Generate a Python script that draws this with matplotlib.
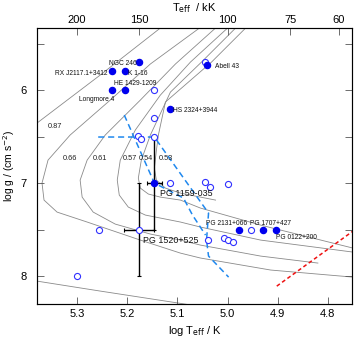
import matplotlib
matplotlib.use('Agg')
import matplotlib.pyplot as plt
import numpy as np

plt.rcParams['font.family'] = ['Liberation Sans', 'DejaVu Sans']

# evolutionary tracks (log Teff, log g)
trk_087_t = [5.134, 5.254, 5.380, 5.460, 5.380, 5.254, 5.098, 5.050]
trk_087_g = [5.333, 5.839, 6.355, 7.200, 8.054, 8.161, 8.290, 8.330]
trk_066_t = [5.056, 5.154, 5.234, 5.314, 5.358, 5.370, 5.366, 5.340, 5.280, 5.174, 5.094, 5.054, 4.914, 4.750]
trk_066_g = [5.333, 5.720, 6.108, 6.484, 6.753, 7.000, 7.183, 7.312, 7.419, 7.613, 7.753, 7.806, 7.935, 8.011]
trk_061_t = [5.024, 5.104, 5.174, 5.244, 5.280, 5.294, 5.290, 5.268, 5.224, 5.154, 5.094, 5.054, 4.934, 4.820]
trk_061_g = [5.333, 5.720, 6.108, 6.484, 6.753, 6.968, 7.151, 7.312, 7.441, 7.548, 7.613, 7.667, 7.785, 7.860]
trk_057_t = [5.000, 5.074, 5.134, 5.184, 5.214, 5.220, 5.216, 5.198, 5.164, 5.094, 5.054, 4.934, 4.750]
trk_057_g = [5.333, 5.699, 6.054, 6.430, 6.753, 6.968, 7.129, 7.258, 7.344, 7.419, 7.473, 7.613, 7.742]
trk_054_t = [4.984, 5.052, 5.114, 5.154, 5.172, 5.178, 5.174, 5.158, 5.134, 5.094, 5.054, 4.934, 4.750]
trk_054_g = [5.333, 5.699, 6.022, 6.484, 6.753, 6.946, 7.054, 7.118, 7.151, 7.183, 7.269, 7.452, 7.699]
trk_053_t = [4.964, 5.032, 5.124, 5.138, 5.142, 5.146, 5.142, 5.124, 5.094, 5.054, 5.024]
trk_053_g = [5.333, 5.699, 6.129, 6.484, 6.650, 6.840, 6.968, 7.054, 7.108, 7.151, 7.183]
track_labels = ['0.87', '0.66', '0.61', '0.57', '0.54', '0.53']
label_t = [5.345, 5.315, 5.255, 5.195, 5.162, 5.123]
label_g = [6.387, 6.731, 6.731, 6.731, 6.731, 6.731]

# instability strip boundaries
blue1_t = [5.258, 5.146, 5.038, 5.042, 5.038, 4.998]
blue1_g = [6.505, 6.505, 7.323, 7.613, 7.785, 8.011]
blue2_t = [5.206, 5.146, 5.088, 5.070, 5.044]
blue2_g = [6.269, 7.000, 7.161, 7.344, 7.559]
red_t = [4.902, 4.750]
red_g = [8.108, 7.516]

# stars with spectroscopic analyses (filled)
filled_name = ['NGC 246', 'RX J2117.1+3412', 'K 1-16', 'HE 1429-1209', 'Longmore 4',
               'HS 2324+3944', 'Abell 43', 'PG 1159-035', 'PG 2131+066', 'PG 1707+427',
               'PG 0122+200']
filled_t = [5.176, 5.230, 5.204, 5.204, 5.230, 5.114, 5.041, 5.146, 4.978, 4.929, 4.903]
filled_g = [5.70, 5.80, 5.80, 6.00, 6.00, 6.20, 5.73, 7.00, 7.50, 7.50, 7.50]
# other objects (open)
open_t = [5.146, 5.146, 5.178, 5.172, 5.146, 5.114, 5.046, 5.036, 5.000, 5.046,
          5.176, 5.256, 5.040, 5.008, 5.000, 4.990, 5.300, 4.954]
open_g = [6.00, 6.30, 6.49, 6.53, 6.50, 7.00, 6.99, 7.04, 7.01, 5.70,
          7.50, 7.50, 7.61, 7.59, 7.61, 7.63, 8.00, 7.50]

# error bars: PG 1159-035, PG 1520+525
err_t = [5.146, 5.176]
err_g = [7.0, 7.5]
err_dt = [0.015, 0.03]
err_dg = [0.5, 0.5]

# star labels: text, x, y, ha, size
star_labels = [('NGC 246', 5.182, 5.71, 'right', 4.8),
               ('RX J2117.1+3412', 5.240, 5.817, 'right', 4.8),
               ('K 1-16', 5.198, 5.817, 'left', 4.8),
               ('HE 1429-1209', 5.184, 5.925, 'center', 4.8),
               ('Longmore 4', 5.262, 6.097, 'center', 4.8),
               ('HS 2324+3944', 5.108, 6.215, 'left', 4.8),
               ('Abell 43', 5.026, 5.742, 'left', 4.8),
               ('PG 1159-035', 5.134, 7.108, 'left', 6.4),
               ('PG 1520+525', 5.168, 7.613, 'left', 6.4),
               ('PG 2131+066', 5.044, 7.43, 'left', 4.8),
               ('PG 1707+427', 4.956, 7.43, 'left', 4.8),
               ('PG 0122+200', 4.904, 7.58, 'left', 4.8)]

fig = plt.figure(figsize=(3.57, 3.42), dpi=100)
ax = fig.add_axes([37/357, 1-304/342, 315/357, 276/342])

grey = '#8a8a8a'
for t, g in [(trk_087_t, trk_087_g), (trk_066_t, trk_066_g), (trk_061_t, trk_061_g),
             (trk_057_t, trk_057_g), (trk_054_t, trk_054_g), (trk_053_t, trk_053_g)]:
    ax.plot(t, g, color=grey, lw=0.6, zorder=1)
for s, t, g in zip(track_labels, label_t, label_g):
    ax.text(t, g, s, fontsize=5.3, ha='center', va='center', color='#222222')

blue = '#1f88ee'
ax.plot(blue1_t, blue1_g, color=blue, lw=1.1, ls=(0, (4, 2.5)), zorder=2)
ax.plot(blue2_t, blue2_g, color=blue, lw=1.1, ls=(0, (4, 2.5)), zorder=2)
ax.plot(red_t, red_g, color='#ee1111', lw=1.1, ls=(0, (2.5, 1.8)), zorder=2)

ax.errorbar(err_t, err_g, xerr=err_dt, yerr=err_dg, fmt='none', ecolor='black',
            elinewidth=1.0, capsize=1.6, capthick=0.8, zorder=3)

ax.plot(open_t, open_g, 'o', ms=4.4, mfc='white', mec='#3030ff', mew=0.8, ls='none', zorder=4)
ax.plot(filled_t, filled_g, 'o', ms=4.4, color='#0000ee', ls='none', zorder=5)

for s, t, g, ha, fs in star_labels:
    ax.text(t, g, s, ha=ha, va='center', fontsize=fs, color='#111111', zorder=6)

ax.set_xlim(5.38, 4.752)
ax.set_ylim(8.30, 5.333)
ax.set_xticks([5.3, 5.2, 5.1, 5.0, 4.9, 4.8])
ax.set_xticklabels(['5.3', '5.2', '5.1', '5.0', '4.9', '4.8'])
ax.set_yticks([6, 7, 8])
ax.set_yticks([5.5, 6.5, 7.5], minor=True)
ax.tick_params(which='both', direction='in', length=5, width=0.6, color='#555555',
               labelsize=8, right=True, top=False)
ax.tick_params(axis='y', pad=7.5)
for sp in ax.spines.values():
    sp.set_color('#555555')
    sp.set_linewidth(0.8)

top = ax.twiny()
top.set_xlim(ax.get_xlim())
kk = [200, 150, 100, 75, 60]
top.set_xticks(np.log10(np.array(kk) * 1000.0))
top.set_xticklabels([str(k) for k in kk])
top.tick_params(direction='in', length=5, width=0.6, color='#555555', labelsize=8, pad=2)

ax.set_xlabel(r'log T$_{\rm eff}$ / K', fontsize=8, labelpad=4)
top.set_xlabel(r'T$_{\rm eff}$  / kK', fontsize=8, labelpad=3)
ax.set_ylabel(r'log g / (cm s$^{-2}$)', fontsize=7.5)
ax.yaxis.set_label_coords(-0.065, 0.5)

fig.savefig('out.png', dpi=100)
